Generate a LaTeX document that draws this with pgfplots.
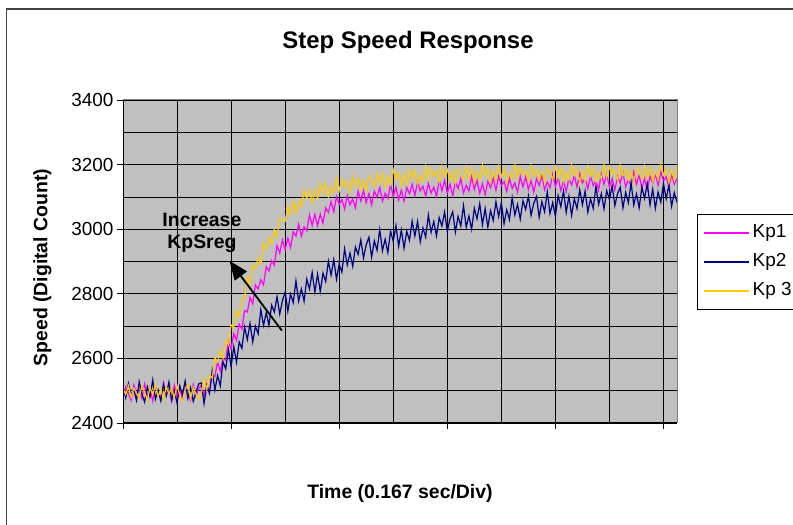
\documentclass[border=0pt]{standalone}
\usepackage{fontspec}
\setmainfont{Liberation Sans}
\usepackage{pgfplots}
\pgfplotsset{compat=1.18}
\usepackage{pgfplotstable}
\usetikzlibrary{arrows.meta}
\definecolor{bggray}{HTML}{C0C0C0}
\definecolor{kpone}{HTML}{FF00FF}
\definecolor{kptwo}{HTML}{000080}
\definecolor{kpthree}{HTML}{FFCC00}
\pgfplotstableread{
i k1 k2 k3
0 2480 2510 2505
1 2512 2478 2488
2 2491 2522 2515
3 2470 2486 2479
4 2518 2503 2508
5 2488 2470 2492
6 2505 2528 2476
7 2476 2490 2517
8 2521 2465 2494
9 2483 2512 2470
10 2509 2481 2511
11 2469 2533 2487
12 2514 2474 2519
13 2492 2502 2481
14 2478 2468 2506
15 2525 2519 2472
16 2486 2484 2513
17 2503 2527 2490
18 2467 2471 2509
19 2517 2500 2478
20 2482 2462 2516
21 2508 2515 2485
22 2473 2488 2468
23 2511 2530 2504
24 2489 2476 2520
25 2470 2509 2477
26 2519 2467 2511
27 2484 2496 2489
28 2506 2521 2473
29 2517 2524 2492
30 2485 2460 2538
31 2521 2516 2504
32 2493 2492 2548
33 2549 2562 2539
34 2544 2502 2602
35 2590 2547 2588
36 2560 2515 2626
37 2598 2590 2600
38 2595 2568 2656
39 2653 2628 2642
40 2629 2574 2704
41 2677 2636 2696
42 2656 2588 2748
43 2706 2651 2729
44 2691 2631 2784
45 2748 2697 2784
46 2744 2658 2852
47 2789 2708 2832
48 2769 2651 2887
49 2827 2700 2878
50 2815 2676 2911
51 2844 2751 2891
52 2828 2702 2956
53 2884 2742 2938
54 2870 2702 2975
55 2903 2765 2955
56 2889 2744 2999
57 2949 2791 2976
58 2926 2737 3034
59 2967 2779 3029
60 2937 2805 3024
61 2972 2746 3072
62 2943 2799 3044
63 2992 2773 3086
64 2979 2840 3050
65 3016 2777 3089
66 2978 2815 3069
67 3007 2777 3121
68 2995 2845 3095
69 3044 2815 3120
70 3012 2866 3080
71 3046 2805 3122
72 3011 2861 3094
73 3047 2807 3142
74 3019 2864 3111
75 3066 2838 3141
76 3052 2901 3099
77 3085 2858 3131
78 3054 2906 3112
79 3101 2845 3159
80 3077 2892 3120
81 3092 2867 3155
82 3062 2939 3132
83 3104 2889 3149
84 3075 2926 3114
85 3094 2885 3164
86 3066 2945 3133
87 3118 2922 3156
88 3087 2967 3122
89 3120 2911 3153
90 3082 2952 3118
91 3110 2975 3165
92 3075 2913 3149
93 3118 2964 3133
94 3099 2935 3173
95 3131 2999 3138
96 3087 2933 3173
97 3111 2969 3129
98 3095 2928 3164
99 3139 2994 3138
100 3101 2962 3185
101 3130 3011 3154
102 3090 2947 3175
103 3121 2998 3132
104 3087 2941 3172
105 3129 2994 3140
106 3110 2965 3186
107 3139 3025 3154
108 3104 2979 3181
109 3147 3024 3138
110 3119 2961 3169
111 3133 3004 3148
112 3102 2975 3195
113 3142 3044 3154
114 3112 2990 3189
115 3130 3024 3164
116 3101 2979 3181
117 3152 3036 3145
118 3119 3010 3195
119 3151 3053 3162
120 3112 2994 3185
121 3139 3032 3150
122 3104 3054 3179
123 3145 2991 3143
124 3126 3040 3189
125 3157 3010 3171
126 3112 3073 3154
127 3136 3006 3193
128 3118 3041 3156
129 3162 3000 3190
130 3123 3065 3145
131 3151 3032 3179
132 3111 3079 3152
133 3141 3014 3198
134 3107 3064 3166
135 3148 3006 3187
136 3128 3057 3143
137 3157 3027 3182
138 3121 3085 3150
139 3164 3039 3195
140 3135 3082 3162
141 3148 3017 3189
142 3117 3060 3145
143 3157 3030 3175
144 3126 3098 3154
145 3143 3044 3200
146 3114 3077 3159
147 3164 3031 3193
148 3131 3088 3168
149 3162 3061 3184
150 3123 3103 3148
151 3150 3043 3197
152 3114 3080 3164
153 3156 3101 3186
154 3136 3037 3151
155 3167 3085 3180
156 3122 3054 3144
157 3146 3116 3190
158 3128 3048 3172
159 3171 3082 3155
160 3132 3040 3194
161 3160 3104 3157
162 3120 3070 3191
163 3150 3118 3146
164 3116 3052 3179
165 3157 3102 3152
166 3137 3043 3198
167 3166 3094 3166
168 3130 3064 3187
169 3172 3122 3143
170 3143 3075 3182
171 3157 3118 3150
172 3125 3053 3195
173 3165 3094 3163
174 3134 3064 3190
175 3151 3132 3146
176 3121 3077 3176
177 3172 3110 3155
178 3139 3063 3201
179 3170 3119 3160
180 3130 3092 3194
181 3157 3134 3169
182 3121 3073 3185
183 3163 3110 3149
184 3143 3130 3198
185 3174 3066 3165
186 3130 3114 3187
187 3153 3082 3152
188 3135 3144 3181
189 3178 3075 3145
190 3139 3109 3191
191 3167 3066 3173
192 3127 3130 3156
193 3157 3095 3195
194 3122 3142 3158
195 3163 3075 3192
196 3143 3124 3147
197 3171 3065 3180
198 3136 3115 3153
199 3178 3084 3199
200 3149 3141 3167
201 3162 3094 3188
202 3130 3137 3144
203 3170 3071 3183
204 3139 3113 3151
205 3156 3083 3196
}\speeddata

\begin{document}
\begin{tikzpicture}
\useasboundingbox (0bp,0bp) rectangle (793bp,525bp);
\clip (0bp,0bp) rectangle (793bp,525bp);
\draw[black!75, line width=1.6bp] (6.5bp,-20bp) -- (6.5bp,516bp) -- (820bp,516bp);
\node[font=\bfseries\fontsize{24}{28}\selectfont] at (408bp,483bp) {Step Speed Response};
\begin{axis}[
  scale only axis, width=554bp, height=323bp,
  at={(123bp,102bp)}, anchor=south west,
  xmin=0, xmax=205, ymin=2400, ymax=3400,
  xtick={0,40,...,200}, minor xtick={20,60,...,180}, xticklabels={},
  ytick={2400,2600,...,3400}, minor ytick={2500,2700,...,3300},
  xtick pos=bottom, ytick pos=left,
  tick align=outside, major tick length=6bp, minor tick length=0pt,
  tick style={black, line width=0.8bp},
  grid=both,
  major grid style={black, line width=0.7bp},
  minor grid style={black, line width=0.7bp},
  axis background/.style={fill=bggray},
  axis line style={draw=gray, line width=1bp},
  /pgf/number format/assume math mode=true,
  /pgf/number format/1000 sep={},
  yticklabel style={font=\fontsize{19}{22}\selectfont},
  xlabel={Time (0.167 sec/Div)},
  ylabel={Speed (Digital Count)},
  xlabel style={font=\bfseries\fontsize{19.5}{22}\selectfont, at={(axis description cs:0.5,-0.217)}, anchor=center},
  ylabel style={font=\bfseries\fontsize{19.5}{22}\selectfont, at={(axis description cs:-0.1453,0.481)}, anchor=center},
  legend style={at={(axis description cs:1.0356,0.646)}, anchor=north west,
    draw=black, line width=0.8bp, fill=white,
    font=\fontsize{19}{22}\selectfont,
    inner xsep=6bp, inner ysep=6bp, row sep=4bp,
    nodes={inner sep=3bp, text height=14bp, text depth=5bp}},
  legend cell align=left,
  legend image code/.code={\draw[#1, line width=1.5bp] (0bp,0bp) -- (45bp,0bp);},
]
\addplot[kpone, line width=1.2bp] table[x=i, y=k1] {\speeddata};
\addlegendentry{Kp1}
\addplot[kptwo, line width=1.2bp] table[x=i, y=k2] {\speeddata};
\addlegendentry{Kp2}
\addplot[kpthree, line width=1.2bp] table[x=i, y=k3] {\speeddata};
\addlegendentry{Kp 3}
\draw[black, line width=1.2bp] (rel axis cs:0,0) -- (rel axis cs:1,0);
\draw[black, line width=1bp] (rel axis cs:0,0) -- (rel axis cs:0,1);
\draw[-{Triangle[length=19bp,width=15bp]}, line width=1.8bp] (axis cs:58.8,2686) -- (axis cs:39.4,2902);
\node[font=\bfseries\fontsize{19.5}{22.3}\selectfont, align=center] at (axis cs:29.2,2988) {Increase\\KpSreg};
\end{axis}
\end{tikzpicture}
\end{document}
